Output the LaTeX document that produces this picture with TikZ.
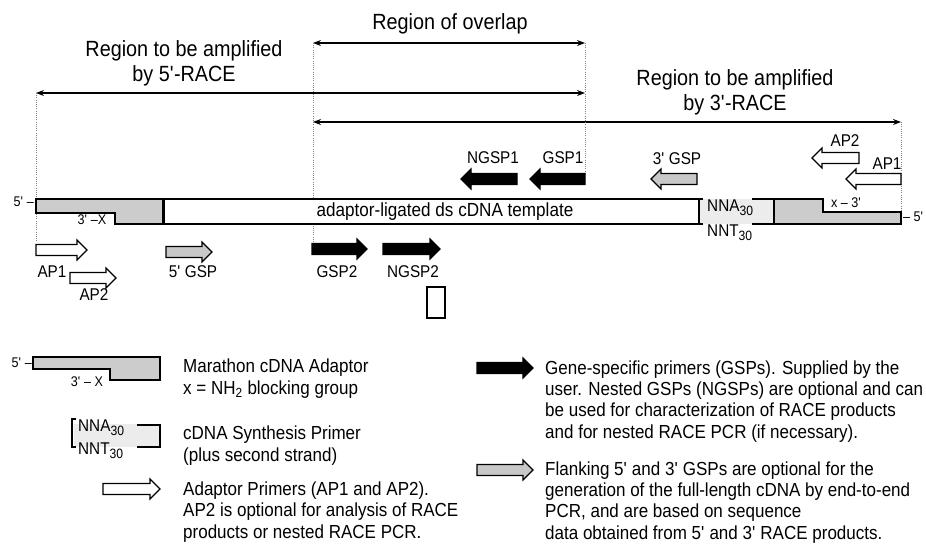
\documentclass[tikz,border=0pt]{standalone}
\usepackage{fontspec}
\setmainfont{Liberation Sans}[FakeStretch=0.9]
\usepackage{tikz}
\usetikzlibrary{arrows.meta,positioning,calc}
\definecolor{adaptorGray}{RGB}{204,204,204}
\definecolor{primerGray}{RGB}{200,200,200}
\definecolor{polyGray}{RGB}{236,236,236}
\newcommand{\pp}{\textquotesingle}
\newcommand{\lowsub}[1]{\raisebox{-4pt}{\fontsize{13.5}{13.5}\selectfont #1}}
% primer arrows: tail x, tip x, y, fill
\newcommand{\primerfwd}[4]{%
  \draw[primer, fill=#4] (#1,#3-5.5) -- (#2-10,#3-5.5) -- (#2-10,#3-10) -- (#2,#3)
    -- (#2-10,#3+10) -- (#2-10,#3+5.5) -- (#1,#3+5.5) -- cycle;}
\newcommand{\primerrev}[4]{%
  \draw[primer, fill=#4] (#1,#3-5.5) -- (#2+10,#3-5.5) -- (#2+10,#3-10) -- (#2,#3)
    -- (#2+10,#3+10) -- (#2+10,#3+5.5) -- (#1,#3+5.5) -- cycle;}
\tikzset{
  primer/.style={line width=1.2pt, line join=miter},
  strand/.style={line width=1.4pt},
  dimline/.style={line width=1.2pt, {Stealth[length=8pt,width=6pt]}-{Stealth[length=8pt,width=6pt]}},
  guide/.style={gray, line width=0.7pt, dash pattern=on 1pt off 1.2pt},
  biglabel/.style={font=\fontsize{22}{25}\selectfont, inner sep=0pt, anchor=base, align=center},
  primlabel/.style={font=\fontsize{17}{17}\selectfont, inner sep=0pt, anchor=base},
  endlabel/.style={font=\fontsize{14}{14}\selectfont, inner sep=0pt, anchor=base},
  polylabel/.style={font=\fontsize{17}{17}\selectfont, inner sep=0pt, anchor=base west},
  legtext/.style={font=\fontsize{18.9}{21.3}\selectfont, inner sep=0pt, anchor=base west, align=left},
}
\begin{document}
\begin{tikzpicture}[x=1pt,y=-1pt]
    \useasboundingbox (0,0) rectangle (926,545);

    % Region arrows
    \coordinate (ovL) at (313,43);  \coordinate (ovR) at (585,43);
    \coordinate (r5L) at (36,93);   \coordinate (r5R) at (585,93);
    \coordinate (r3L) at (313,122); \coordinate (r3R) at (901,122);
    \node[biglabel] (overlap) at (450,30) {Region of overlap};
    \node[biglabel] (race5) at (184,82) {Region to be amplified\\by 5\pp-RACE};
    \node[biglabel] (race3) at (735,111) {Region to be amplified\\by 3\pp-RACE};
    \draw[dimline] (ovL) -- (ovR);
    \draw[dimline] (r5L) -- (r5R);
    \draw[dimline] (r3L) -- (r3R);

    % Guide lines
    \draw[guide] (r5L) -- (36,241);
    \draw[guide] (ovL) -- (313,243);
    \draw[guide] (ovR) -- (585,173);
    \draw[guide] (r3R) -- (901,212);

    % Template with adaptors
    \draw[strand, fill=adaptorGray] (36,199) -- (163,199) -- (163,224) -- (115,224) -- (115,213) -- (36,213) -- cycle;
    \draw[strand, fill=white] (163,199) rectangle (699,224);
    \draw[line width=3pt] (163,199) -- (163,224);
    \fill[polyGray] (699,199) rectangle (774,224);
    \draw[line width=2.5pt] (703,199) -- (699,199) -- (699,224) -- (703,224);
    \draw[strand] (752,199) -- (774,199) (752,224) -- (774,224);
    \draw[strand, fill=adaptorGray] (774,199) -- (823,199) -- (823,212) -- (901,212) -- (901,224) -- (774,224) -- cycle;
    \node[font=\fontsize{19}{19}\selectfont, inner sep=0pt, anchor=base] (template) at (445,217) {adaptor-ligated ds cDNA template};
    \node[polylabel] (nna) at (707,212) {NNA\lowsub{30}};
    \node[polylabel] (nnt) at (707,237) {NNT\lowsub{30}};
    \node[endlabel, anchor=base east] (end5L) at (34,207) {5\pp\ --};
    \node[endlabel] (end3L) at (92,225) {3\pp\ --X};
    \node[endlabel] (end3R) at (846,208) {x -- 3\pp};
    \node[endlabel, anchor=base west] (end5R) at (903,222) {-- 5\pp};

    % Primers, upper strand
    \primerrev{517}{461}{179}{black}
    \primerrev{585}{530}{179}{black}
    \primerrev{697}{651}{179}{primerGray}
    \primerrev{859}{812}{158}{white}
    \primerrev{901}{846}{179}{white}
    \node[primlabel] (ngsp1) at (493,164) {NGSP1};
    \node[primlabel] (gsp1) at (563,164) {GSP1};
    \node[primlabel] (gsp3) at (677,165) {3\pp\ GSP};
    \node[primlabel] (ap2r) at (845,147) {AP2};
    \node[primlabel] (ap1r) at (887,170) {AP1};

    % Primers, lower strand
    \primerfwd{36}{87}{250}{white}
    \primerfwd{70}{116}{278}{white}
    \primerfwd{166}{212}{252}{primerGray}
    \primerfwd{312}{367}{249}{black}
    \primerfwd{383}{440}{249}{black}
    \node[primlabel] (ap1l) at (52,278) {AP1};
    \node[primlabel] (ap2l) at (94,301) {AP2};
    \node[primlabel] (gsp5) at (193,278) {5\pp\ GSP};
    \node[primlabel] (gsp2) at (337,277) {GSP2};
    \node[primlabel] (ngsp2) at (413,277) {NGSP2};
    \draw[line width=1.4pt] (427,287) rectangle (445,318);

    % Legend, left
    \draw[strand, fill=adaptorGray] (33,357) -- (160,357) -- (160,380) -- (110,380) -- (110,369) -- (33,369) -- cycle;
    \node[endlabel, anchor=base east] (leg5) at (32,367) {5\pp\ --};
    \node[endlabel] (leg3) at (87,386) {3\pp\ -- X};
    \node[legtext] (legAdaptor) at (183,394) {Marathon cDNA Adaptor\\x = NH\textsubscript{2} blocking group};

    \fill[polyGray] (74,424) rectangle (160,447);
    \draw[line width=1.5pt] (76,419) -- (72,419) -- (72,447) -- (76,447);
    \draw[strand] (137,425) -- (160,425) -- (160,447) -- (137,447);
    \node[polylabel] (legnna) at (78,431) {NNA\lowsub{30}};
    \node[polylabel] (legnnt) at (78,454) {NNT\lowsub{30}};
    \node[legtext] (legPrimer) at (183,461) {cDNA Synthesis Primer\\(plus second strand)};

    \primerfwd{103}{160}{489}{white}
    \node[legtext] (legAP) at (183,538) {Adaptor Primers (AP1 and AP2).\\AP2 is optional for analysis of RACE\\products or nested RACE PCR.};

    % Legend, right
    \primerfwd{477}{533}{368}{black}
    \node[legtext] (legGSP) at (545,438) {Gene-specific primers (GSPs). Supplied by the\\user. Nested GSPs (NGSPs) are optional and can\\be used for characterization of RACE products\\and for nested RACE PCR (if necessary).};
    \primerfwd{477}{533}{470}{primerGray}
    \node[legtext] (legFlank) at (545,539) {Flanking 5\pp\ and 3\pp\ GSPs are optional for the\\generation of the full-length cDNA by end-to-end\\PCR, and are based on sequence\\data obtained from 5\pp\ and 3\pp\ RACE products.};
\end{tikzpicture}
\end{document}
